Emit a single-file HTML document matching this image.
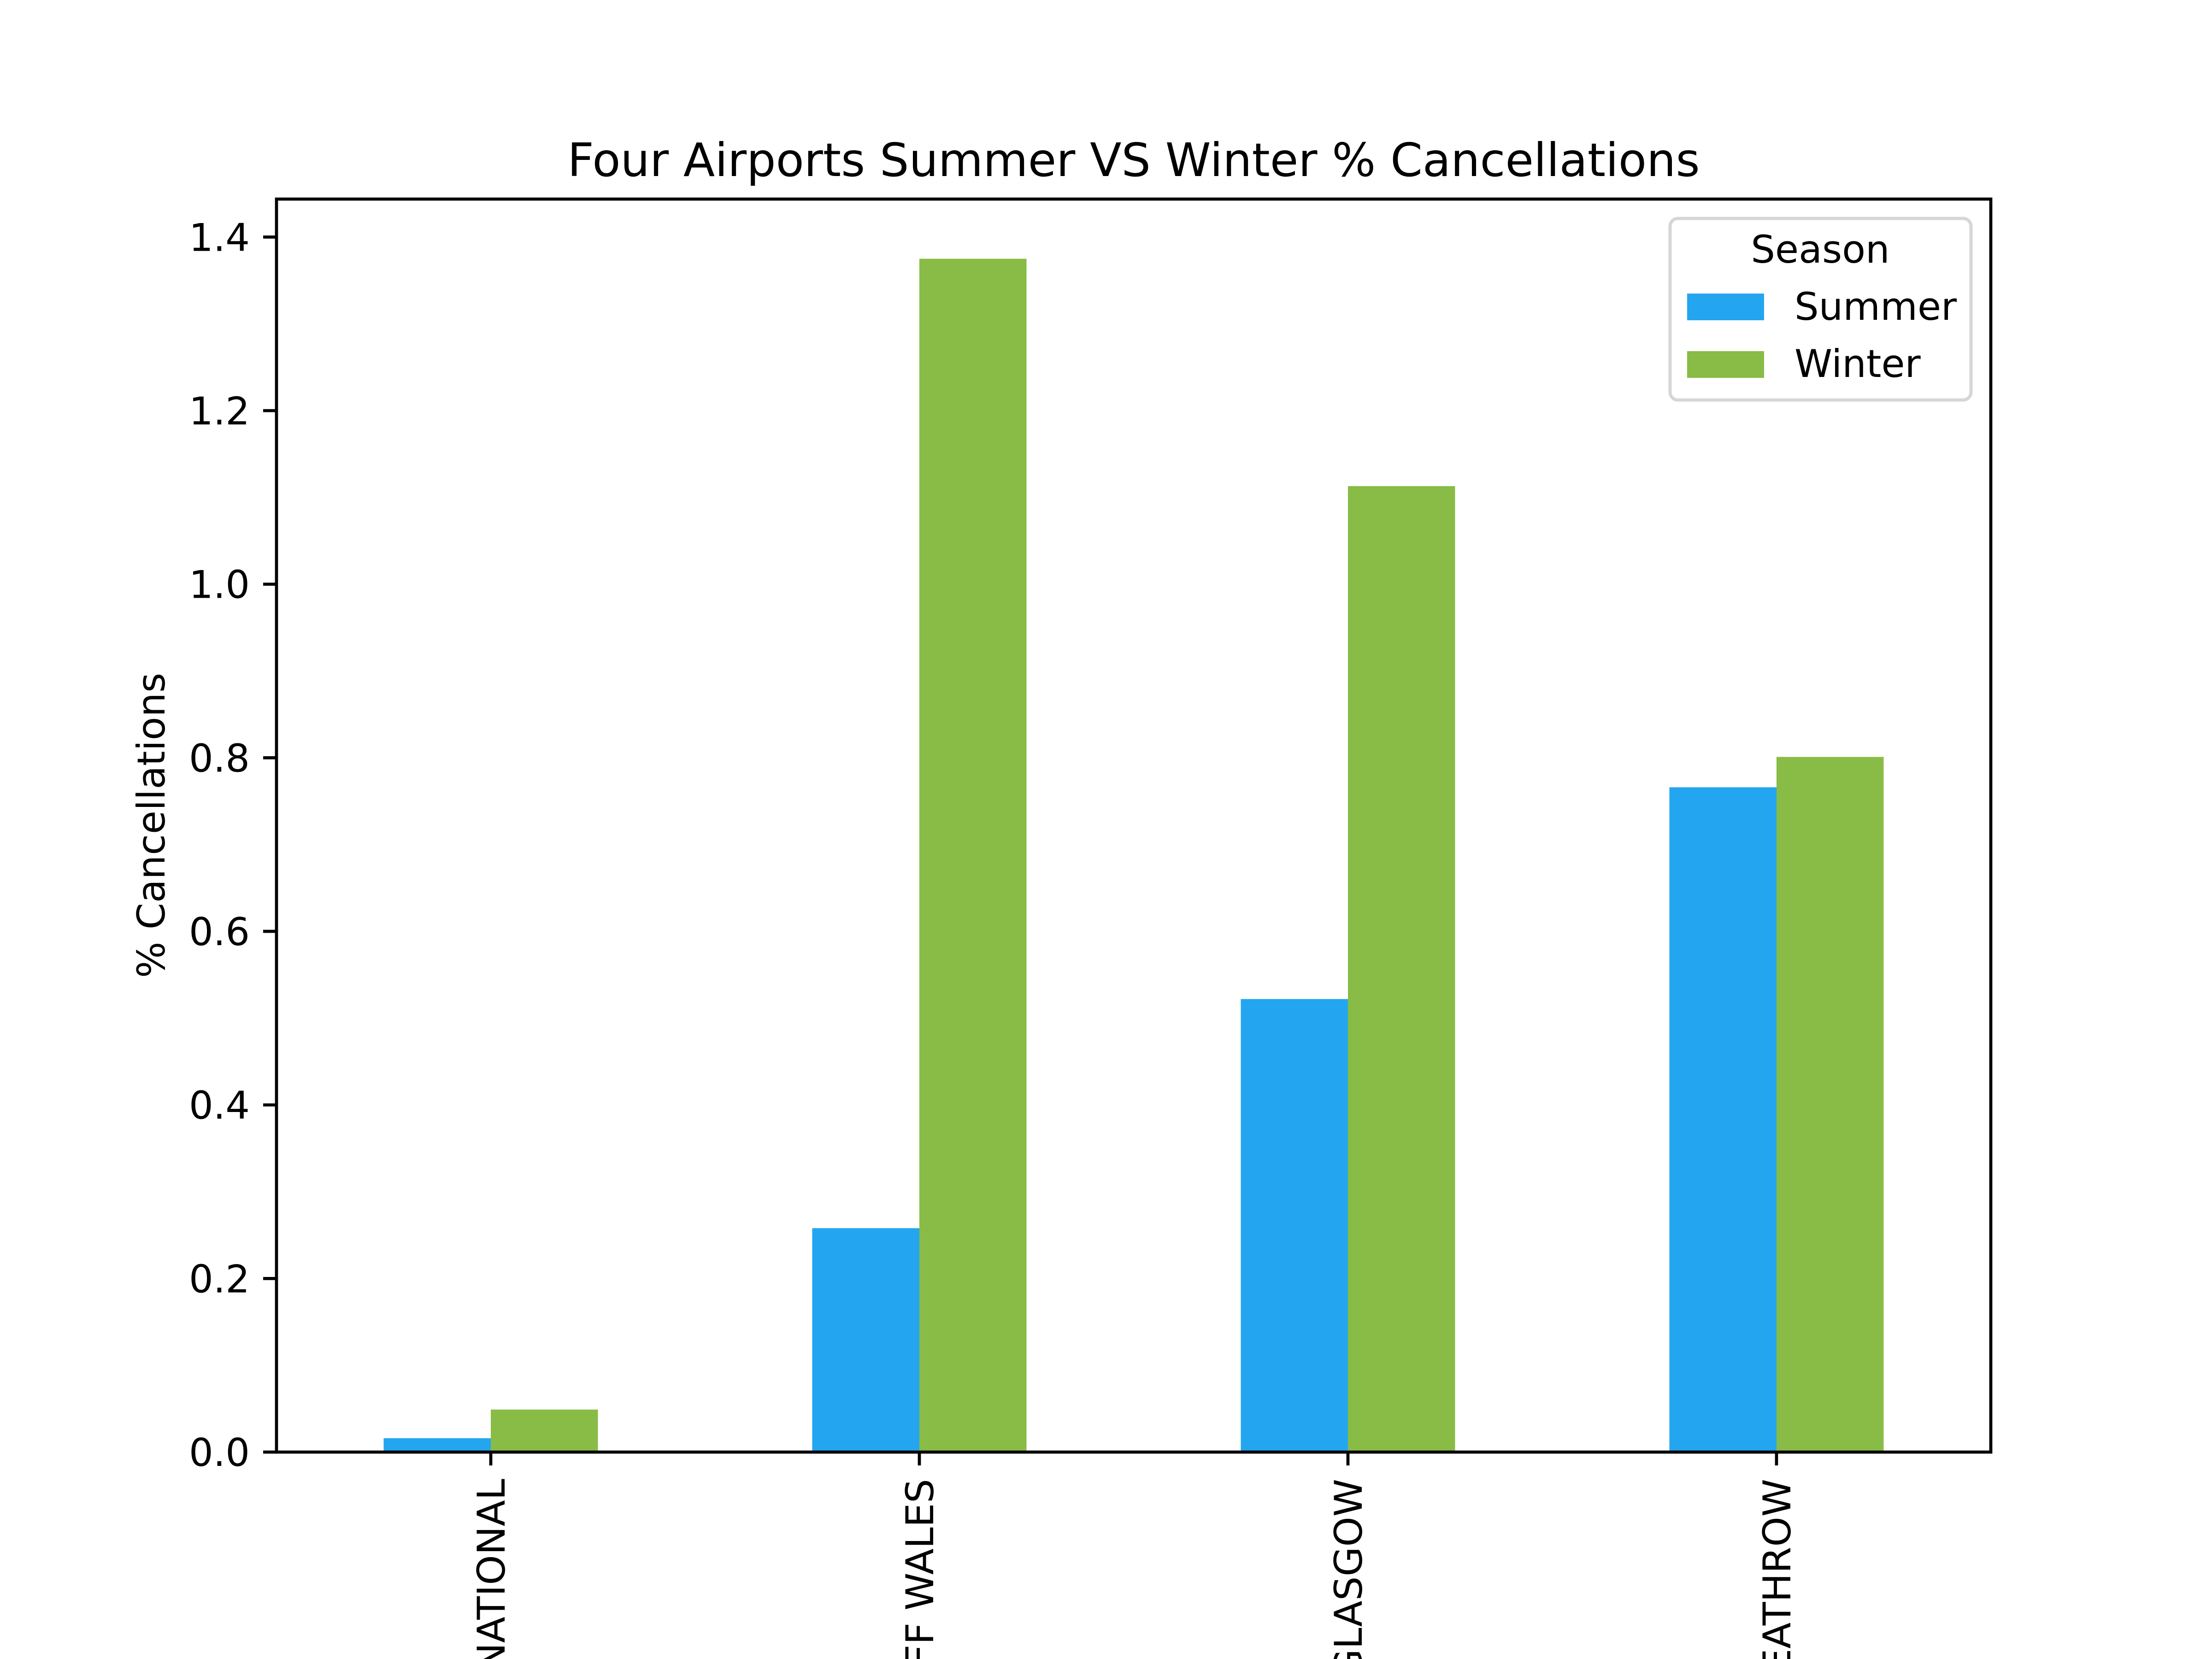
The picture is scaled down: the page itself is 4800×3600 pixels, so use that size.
<!DOCTYPE html>
<html><head><meta charset="utf-8"><style>
html,body{margin:0;padding:0;background:#fff;width:4800px;height:3600px;overflow:hidden;}
svg{display:block;font-family:"DejaVu Sans","Liberation Sans",sans-serif;}
</style></head><body>
<svg id="chart" width="4800" height="3600" viewBox="0 0 4800 3600" xmlns="http://www.w3.org/2000/svg" overflow="hidden">
<rect width="4800" height="3600" fill="#fff"/>
<text x="2460" y="382" font-size="100" text-anchor="middle">Four Airports Summer VS Winter % Cancellations</text>
<text transform="translate(357,1791) rotate(-90)" font-size="83" text-anchor="middle">% Cancellations</text>
<g id="bars"></g>
<g id="yticks"></g>
<g id="xticks"></g>
<rect x="600" y="432" width="3720" height="2719" fill="none" stroke="#000" stroke-width="6.7"/>
<g>
<rect x="3624" y="474" width="653" height="394" rx="17" fill="#fff" fill-opacity="0.8" stroke="#d6d6d6" stroke-width="7"/>
<text x="3950" y="570" font-size="83" text-anchor="middle">Season</text>
<rect x="3661" y="637" width="167" height="58" fill="#23a6ef"/>
<text x="3894" y="694" font-size="83">Summer</text>
<rect x="3661" y="762" width="167" height="58" fill="#88bc46"/>
<text x="3894" y="818" font-size="83">Winter</text>
</g>
</svg>
<script>
const categories = ["BIRMINGHAM INTERNATIONAL", "CARDIFF WALES", "GLASGOW", "HEATHROW"];
const summerValues = [0.016, 0.258, 0.522, 0.766];
const winterValues = [0.049, 1.375, 1.113, 0.801];
const yTickValues = [0.0, 0.2, 0.4, 0.6, 0.8, 1.0, 1.2, 1.4];
const yTickLabels = ["0.0", "0.2", "0.4", "0.6", "0.8", "1.0", "1.2", "1.4"];

const NS = "http://www.w3.org/2000/svg";
const L = 600, R = 4320, T = 432, B = 3151;
const yMax = Math.max(...summerValues, ...winterValues) * 1.05;
function yScale(v){ return B - v / yMax * (B - T); }
function xScale(i){ return L + (i + 0.5) / categories.length * (R - L); }
const unit = (R - L) / categories.length;
const bw = unit * 0.25;

const bars = document.getElementById('bars');
function mk(tag, attrs, parent){ const e = document.createElementNS(NS, tag); for (const k in attrs) e.setAttribute(k, attrs[k]); parent.appendChild(e); return e; }

categories.forEach((c, i) => {
  const cx = xScale(i);
  const s = mk('rect', {x: cx - bw, y: yScale(summerValues[i]), width: bw, height: B - yScale(summerValues[i]), fill: '#23a6ef'}, bars);
  
  
  const w = mk('rect', {x: cx, y: yScale(winterValues[i]), width: bw, height: B - yScale(winterValues[i]), fill: '#88bc46'}, bars);
  
  
});

const yt = document.getElementById('yticks');
yTickValues.forEach((v, i) => {
  const y = yScale(v);
  const ln = mk('line', {x1: L - 29, x2: L, y1: y, y2: y, stroke: '#000', 'stroke-width': 6.7}, yt);
  
  
  const t = mk('text', {x: L - 58, y: y + 30, 'font-size': 83, 'text-anchor': 'end'}, yt);
  t.textContent = yTickLabels[i];
  
  
});

const xt = document.getElementById('xticks');
categories.forEach((c, i) => {
  const x = xScale(i);
  const ln = mk('line', {x1: x, x2: x, y1: B, y2: B + 29, stroke: '#000', 'stroke-width': 6.7}, xt);
  
  
  const t = mk('text', {transform: 'translate(' + (x + 30) + ',' + (B + 58) + ') rotate(-90)', 'font-size': 83, 'text-anchor': 'end'}, xt);
  t.textContent = c;
  
  
});
</script>
</body></html>
